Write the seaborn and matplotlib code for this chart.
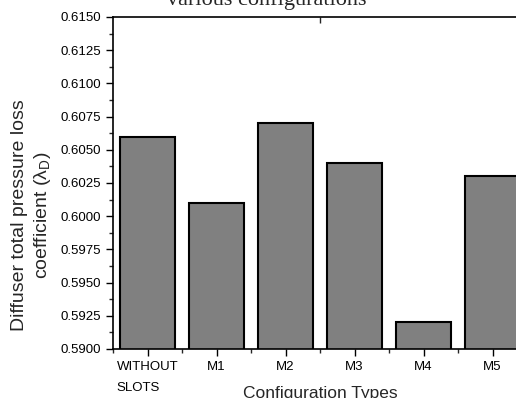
import matplotlib

matplotlib.use("Agg")
import matplotlib.pyplot as plt
import pandas as pd
import seaborn as sns
from matplotlib.ticker import FixedLocator, FormatStrFormatter, MultipleLocator

# Data
categories = ["WITHOUT\nSLOTS", "M1", "M2", "M3", "M4", "M5"]
loss_coeff = [0.6060, 0.6010, 0.6070, 0.6040, 0.5920, 0.6030]

sns.set_style("ticks")
plt.rcParams["font.family"] = ["Liberation Sans", "DejaVu Sans"]
plt.rcParams["mathtext.fontset"] = "custom"
plt.rcParams["mathtext.rm"] = "Liberation Sans"

df = pd.DataFrame({"config": categories, "loss": loss_coeff})

fig = plt.figure(figsize=(5.16, 3.98), dpi=100)
# axes run past the right edge, as in the cropped reference
ax = fig.add_axes([113 / 516, 49 / 398, 414 / 516, 332 / 398])

sns.barplot(data=df, x="config", y="loss", color="#808080", saturation=1,
            edgecolor="black", linewidth=1.5, width=0.8, ax=ax)

ax.set_ylim(0.5900, 0.6150)
ax.set_xlim(-0.5, 5.5)
ax.yaxis.set_major_locator(MultipleLocator(0.0025))
ax.yaxis.set_minor_locator(MultipleLocator(0.00125))
ax.yaxis.set_major_formatter(FormatStrFormatter("%.4f"))
ax.xaxis.set_minor_locator(FixedLocator([i - 0.5 for i in range(7)]))

ax.tick_params(axis="both", which="major", direction="out", length=5,
               width=1, labelsize=9.5, color="black", labelcolor="black")
ax.tick_params(axis="both", which="minor", direction="out", length=3, width=1)
for lbl in ax.get_xticklabels():
    lbl.set_multialignment("left")
    lbl.set_linespacing(2.0)

for side in ["left", "bottom", "top", "right"]:
    ax.spines[side].set_linewidth(1.2)
    ax.spines[side].set_color("black")

top = ax.secondary_xaxis("top")
top.set_xticks([2.5])
top.set_xticklabels([])
top.tick_params(direction="in", length=4, width=1)
top.spines["top"].set_visible(False)

# label sits low and is clipped by the bottom edge, as in the reference
ax.set_xlabel("Configuration Types", fontsize=12.5)
ax.xaxis.set_label_coords(0.5, -0.112)
ax.set_ylabel("")

fig.text(32 / 516, 183 / 398,
         "Diffuser total pressure loss\ncoefficient (λ$_{\\mathrm{D}}$)",
         rotation=90, ha="center", va="center", multialignment="center",
         fontsize=14, linespacing=1.25)

fig.text(267 / 516, 393 / 398, "various configurations", ha="center",
         va="baseline", fontsize=16, family=["Liberation Serif", "DejaVu Serif"])

fig.savefig("out.png", dpi=100)
